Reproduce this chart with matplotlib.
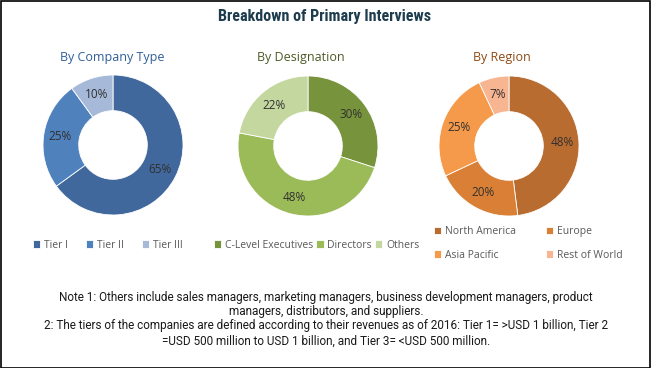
import numpy as np
import matplotlib.pyplot as plt
from matplotlib.patches import Rectangle

# data
company_labels = ["Tier I", "Tier II", "Tier III"]
company_values = [65, 25, 10]
company_colors = ["#41689c", "#4f81bd", "#a7b9d8"]

designation_labels = ["C-Level Executives", "Directors", "Others"]
designation_values = [30, 48, 22]
designation_colors = ["#77933c", "#9bbb59", "#c4d79e"]

region_labels = ["North America", "Europe", "Asia Pacific", "Rest of World"]
region_values = [48, 20, 25, 7]
region_colors = ["#b86c30", "#d98036", "#f5994a", "#f8b592"]

notes = [
    "Note 1: Others include sales managers, marketing managers, business development managers, product",
    "managers, distributors, and suppliers.",
    "2: The tiers of the companies are defined according to their revenues as of 2016: Tier 1= >USD 1 billion, Tier 2",
    "=USD 500 million to USD 1 billion, and Tier 3= <USD 500 million.",
]

W, H = 651, 368
NARROW = ["DejaVu Sans Condensed", "Liberation Sans Narrow", "Roboto Condensed",
          "Liberation Sans", "DejaVu Sans"]
BODY = ["Roboto", "DejaVu Sans"]
LEG = ["Open Sans", "DejaVu Sans"]

fig = plt.figure(figsize=(W / 100, H / 100), dpi=100)
fig.patches.append(Rectangle((0.5 / W, 0.5 / H), 1 - 1.5 / W, 1 - 1.5 / H,
                             transform=fig.transFigure, fill=False,
                             edgecolor="black", linewidth=1.2))
renderer = fig.canvas.get_renderer()


def px(x, y):
    return x / W, 1 - y / H


def fit(t, width, maxsize):
    # shrink a text until it is about as wide as in the reference
    w = t.get_window_extent(renderer).width
    t.set_fontsize(min(maxsize, t.get_fontsize() * width / w))


def donut(cx, cy, values, colors, r=70):
    ax = fig.add_axes([(cx - r) / W, 1 - (cy + r) / H, 2 * r / W, 2 * r / H])
    wedges, _, autotexts = ax.pie(values, colors=colors, startangle=90,
                                  counterclock=False, radius=1,
                                  autopct=lambda p: f"{p:.0f}%", pctdistance=0.76,
                                  wedgeprops=dict(width=0.51, edgecolor="white",
                                                  linewidth=0.6))
    for t in autotexts:
        t.set_fontsize(8.5)
        t.set_color("#303030")
        t.set_family(LEG)
    ax.set_xlim(-1, 1)
    ax.set_ylim(-1, 1)
    ax.set_aspect("equal")
    ax.axis("off")
    return wedges


w1 = donut(113, 145, company_values, company_colors)
w2 = donut(308, 146, designation_values, designation_colors)
w3 = donut(509, 146, region_values, region_colors)

title = fig.text(*px(325, 17), "Breakdown of Primary Interviews", ha="center",
                 va="center", fontsize=12, fontweight="bold", color="#1d3c4e",
                 family=NARROW)
fit(title, 214, 13)
fig.text(*px(112, 58), "By Company Type", ha="center", va="center",
         fontsize=9, color="#2f5f98", family=LEG)
fig.text(*px(301, 58), "By Designation", ha="center", va="center",
         fontsize=9, color="#4d5a26", family=LEG)
fig.text(*px(502, 58), "By Region", ha="center", va="center",
         fontsize=9, color="#8e4a14", family=LEG)


def legend(handles, labels, x, y, ncol, colsp, rowsp=0.5):
    lg = fig.legend(handles, labels, loc="center left", bbox_to_anchor=px(x, y),
                    ncol=ncol, frameon=False, handlelength=0.7, handleheight=0.7,
                    handletextpad=0.35, columnspacing=colsp, labelspacing=rowsp,
                    borderpad=0, borderaxespad=0,
                    prop=dict(family=LEG, size=7.5))
    for t in lg.get_texts():
        t.set_color("#595959")
    return lg


legend(w1, company_labels, 33, 245, 3, 1.75)
legend(w2, designation_labels, 214, 245, 3, 0.3)
# reorder so the two-column legend reads row by row
order = [0, 2, 1, 3]
legend([w3[i] for i in order], [region_labels[i] for i in order], 434, 243.5, 2,
       2.9, rowsp=1.2)

note_y = [297, 312, 326, 341]
texts = [fig.text(*px(326, y), s, ha="center", va="center", fontsize=9,
                  color="#1a1a1a", family=BODY) for y, s in zip(note_y, notes)]
fit(texts[2], 574, 9.5)
for t in texts:
    t.set_fontsize(texts[2].get_fontsize())

fig.savefig("out.png", dpi=100)
